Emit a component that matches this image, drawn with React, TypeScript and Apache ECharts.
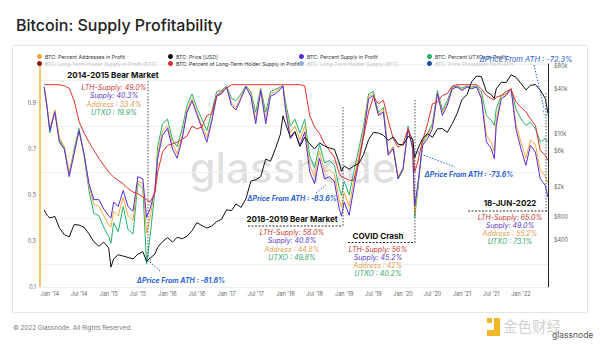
import React, { useEffect, useRef } from 'react';
import * as echarts from 'echarts';

// ---------- DATA ----------
const dates = [
  '2013-11-27', '2013-12-15',
  '2014-01-01', '2014-02-01', '2014-03-01', '2014-04-01', '2014-05-01', '2014-06-01', '2014-07-01', '2014-08-01', '2014-09-01', '2014-10-01', '2014-11-01', '2014-12-01',
  '2015-01-01', '2015-01-15', '2015-02-01', '2015-03-01', '2015-04-01', '2015-05-01', '2015-06-01', '2015-07-01', '2015-08-01', '2015-08-24', '2015-09-15', '2015-10-15', '2015-11-01', '2015-12-01',
  '2016-01-01', '2016-02-01', '2016-03-01', '2016-04-01', '2016-05-01', '2016-06-01', '2016-07-01', '2016-08-01', '2016-09-01', '2016-10-01', '2016-11-01', '2016-12-01',
  '2017-01-01', '2017-02-01', '2017-03-01', '2017-04-01', '2017-05-01', '2017-06-01', '2017-07-01', '2017-08-01', '2017-09-01', '2017-10-01', '2017-11-01', '2017-12-01', '2017-12-17',
  '2018-01-01', '2018-02-01', '2018-03-01', '2018-04-01', '2018-05-01', '2018-06-01', '2018-07-01', '2018-08-01', '2018-09-01', '2018-10-01', '2018-11-01', '2018-12-01', '2018-12-15',
  '2019-01-01', '2019-02-01', '2019-03-01', '2019-04-01', '2019-05-01', '2019-06-01', '2019-07-01', '2019-08-01', '2019-09-01', '2019-10-01', '2019-11-01', '2019-12-01',
  '2020-01-01', '2020-02-01', '2020-03-01', '2020-03-13', '2020-04-01', '2020-05-01', '2020-06-01', '2020-07-01', '2020-08-01', '2020-09-01', '2020-10-01', '2020-11-01', '2020-12-01',
  '2021-01-01', '2021-02-01', '2021-03-01', '2021-04-01', '2021-05-01', '2021-06-01', '2021-07-01', '2021-07-20', '2021-08-01', '2021-09-01', '2021-10-01', '2021-11-01', '2021-12-01',
  '2022-01-01', '2022-02-01', '2022-03-01', '2022-04-01', '2022-05-01', '2022-06-01', '2022-06-18',
];

const priceUsd = [
  1000, 850,
  780, 820, 580, 470, 440, 640, 630, 590, 480, 380, 330, 375,
  315, 175, 225, 255, 245, 235, 225, 260, 280, 210, 230, 260, 320, 380,
  430, 375, 435, 415, 450, 530, 680, 620, 575, 610, 700, 750,
  1000, 980, 1200, 1080, 1400, 2400, 2500, 2750, 4700, 4400, 6500, 10000, 17500,
  14000, 9200, 10900, 6900, 9200, 7500, 6400, 7700, 7000, 6600, 6350, 4200, 3250,
  3800, 3450, 3800, 4100, 5400, 8500, 10600, 10400, 9700, 8300, 9200, 7400,
  7200, 9400, 8600, 4900, 6400, 8800, 10200, 9100, 11800, 11900, 10600, 13800, 18800,
  29000, 33500, 49500, 59000, 57800, 36700, 33500, 29800, 39900, 48800, 48200, 61300, 57000,
  47300, 38700, 44400, 45500, 38500, 29800, 19000,
];

const lthSupplyInProfitPct = [
  0.98, 0.98,
  0.98, 0.98, 0.98, 0.975, 0.965, 0.91, 0.82, 0.77, 0.73, 0.695, 0.66, 0.63,
  0.60, 0.59, 0.578, 0.564, 0.549, 0.528, 0.513, 0.506, 0.491, 0.48, 0.47, 0.51, 0.60, 0.687,
  0.716, 0.723, 0.73, 0.742, 0.757, 0.80, 0.788, 0.796, 0.846, 0.854, 0.933, 0.951,
  0.965, 0.98, 0.98, 0.98, 0.98, 0.98, 0.98, 0.98, 0.98, 0.98, 0.98, 0.98, 0.98,
  0.98, 0.98, 0.98, 0.98, 0.975, 0.846, 0.796, 0.767, 0.723, 0.694, 0.665, 0.593, 0.58,
  0.574, 0.564, 0.564, 0.644, 0.752, 0.861, 0.926, 0.897, 0.912, 0.825, 0.745, 0.709,
  0.723, 0.788, 0.738, 0.60, 0.644, 0.738, 0.81, 0.897, 0.904, 0.933, 0.941, 0.974, 0.98,
  0.98, 0.98, 0.98, 0.98, 0.962, 0.933, 0.919, 0.915, 0.926, 0.933, 0.95, 0.96, 0.904,
  0.883, 0.861, 0.832, 0.803, 0.694, 0.673, 0.65,
];

const supplyInProfitPct = [
  0.97, 0.88,
  0.78, 0.86, 0.73, 0.70, 0.58, 0.68, 0.78, 0.68, 0.55, 0.48, 0.48, 0.44,
  0.41, 0.40, 0.47, 0.45, 0.52, 0.45, 0.43, 0.58, 0.57, 0.403, 0.44, 0.52, 0.66, 0.76,
  0.79, 0.70, 0.66, 0.745, 0.86, 0.91, 0.85, 0.79, 0.73, 0.82, 0.93, 0.94,
  0.97, 0.89, 0.87, 0.92, 0.97, 0.93, 0.81, 0.955, 0.81, 0.93, 0.94, 0.96, 0.975,
  0.875, 0.745, 0.774, 0.716, 0.774, 0.60, 0.55, 0.66, 0.57, 0.58, 0.56, 0.44, 0.408,
  0.47, 0.412, 0.528, 0.644, 0.76, 0.919, 0.933, 0.846, 0.861, 0.673, 0.702, 0.571,
  0.615, 0.788, 0.702, 0.452, 0.542, 0.716, 0.745, 0.788, 0.941, 0.846, 0.89, 0.962, 0.97,
  0.955, 0.97, 0.962, 0.97, 0.919, 0.731, 0.702, 0.658, 0.803, 0.919, 0.933, 0.962, 0.788,
  0.702, 0.629, 0.716, 0.687, 0.571, 0.542, 0.49,
];

const addressesInProfitPct = [
  0.97, 0.89,
  0.79, 0.87, 0.75, 0.71, 0.60, 0.69, 0.78, 0.68, 0.54, 0.46, 0.45, 0.41,
  0.37, 0.36, 0.43, 0.41, 0.49, 0.41, 0.39, 0.56, 0.55, 0.334, 0.40, 0.53, 0.68, 0.78,
  0.80, 0.72, 0.68, 0.76, 0.87, 0.92, 0.86, 0.80, 0.75, 0.83, 0.93, 0.945,
  0.97, 0.90, 0.88, 0.93, 0.97, 0.94, 0.83, 0.96, 0.83, 0.94, 0.95, 0.965, 0.975,
  0.89, 0.77, 0.80, 0.74, 0.80, 0.63, 0.58, 0.69, 0.60, 0.61, 0.59, 0.48, 0.448,
  0.51, 0.45, 0.56, 0.67, 0.78, 0.93, 0.94, 0.85, 0.87, 0.68, 0.71, 0.58,
  0.62, 0.79, 0.70, 0.42, 0.54, 0.72, 0.76, 0.80, 0.945, 0.86, 0.90, 0.965, 0.97,
  0.96, 0.97, 0.965, 0.97, 0.93, 0.76, 0.73, 0.69, 0.83, 0.93, 0.94, 0.965, 0.81,
  0.73, 0.66, 0.74, 0.72, 0.61, 0.58, 0.552,
];

const utxosInProfitPct = [
  0.97, 0.88,
  0.77, 0.87, 0.74, 0.70, 0.59, 0.70, 0.79, 0.67, 0.52, 0.42, 0.41, 0.36,
  0.32, 0.29, 0.38, 0.34, 0.45, 0.35, 0.33, 0.55, 0.53, 0.199, 0.32, 0.52, 0.71, 0.81,
  0.83, 0.74, 0.71, 0.79, 0.89, 0.94, 0.88, 0.83, 0.78, 0.86, 0.95, 0.955,
  0.975, 0.92, 0.91, 0.94, 0.975, 0.95, 0.86, 0.965, 0.86, 0.95, 0.96, 0.97, 0.975,
  0.91, 0.80, 0.83, 0.77, 0.83, 0.67, 0.62, 0.72, 0.64, 0.65, 0.63, 0.53, 0.498,
  0.56, 0.50, 0.60, 0.70, 0.80, 0.94, 0.95, 0.86, 0.88, 0.68, 0.71, 0.57,
  0.61, 0.80, 0.70, 0.402, 0.52, 0.73, 0.77, 0.81, 0.955, 0.87, 0.91, 0.97, 0.975,
  0.965, 0.975, 0.97, 0.975, 0.948, 0.846, 0.825, 0.803, 0.875, 0.933, 0.94, 0.962, 0.875,
  0.832, 0.803, 0.817, 0.788, 0.731, 0.745, 0.731,
];

const leftTicks = [0.1, 0.3, 0.5, 0.7, 0.9];
const priceTicks = [400, 800, 2000, 6000, 10000, 40000, 80000];
const xTickDates = [
  '2014-01-01', '2014-07-01', '2015-01-01', '2015-07-01', '2016-01-01', '2016-07-01',
  '2017-01-01', '2017-07-01', '2018-01-01', '2018-07-01', '2019-01-01', '2019-07-01',
  '2020-01-01', '2020-07-01', '2021-01-01', '2021-07-01', '2022-01-01',
];

const N = {
  addr: 'BTC: Percent Addresses in Profit',
  lthBtc: 'BTC: Long-Term Holder Supply in Profit [BTC]',
  price: 'BTC: Price [USD]',
  lthPct: 'BTC: Percent of Long-Term Holder Supply in Profit',
  supply: 'BTC: Percent Supply in Profit',
  lthSupply: 'BTC: Long-Term Holder Supply [BTC]',
  utxo: 'BTC: Percent UTXOs in Profit',
  drawdown: 'BTC: Price Drawdown from ATH',
};

const COL = {
  addr: '#f4a83a',
  lthBtc: '#8e1c1c',
  price: '#111111',
  lthPct: '#e0302a',
  supply: '#5a2be0',
  lthSupply: '#8fb1e3',
  utxo: '#22b36b',
  drawdown: '#1c4ea0',
};

const TXT = { red: '#cc3530', purple: '#5a35c9', orange: '#e39a4a', green: '#34a86a', blue: '#2b5fd9' };
const FONT = 'Inter, Roboto, "Noto Sans", sans-serif';

function toTs(s: string) {
  const [y, m, d] = s.split('-').map(Number);
  return Date.UTC(y, m - 1, d);
}

function fmtPrice(v: number) {
  const p = Math.pow(10, v);
  if (p >= 1000) return '$' + Math.round(p / 1000) + 'k';
  return '$' + Math.round(p);
}

function txt(text: string, x: number, y: number, fill: string, font: string, align = 'center') {
  return {
    type: 'text',
    z: 50,
    style: { text, x, y, fill, font, align, verticalAlign: 'middle', textAlign: align, textVerticalAlign: 'middle' },
  };
}
function ln(x1: number, y1: number, x2: number, y2: number, stroke = '#333', dash = [2, 2]) {
  return { type: 'line', z: 50, shape: { x1, y1, x2, y2 }, style: { stroke, lineWidth: 1, lineDash: dash } };
}
function circ(cx: number, cy: number, r: number) {
  return { type: 'circle', z: 50, shape: { cx, cy, r }, style: { fill: 'none', stroke: TXT.blue, lineWidth: 0.8, lineDash: [1.5, 1.5] } };
}

function block(cx: number, y0: number, step: number, lines: string[]) {
  const cols = [TXT.red, TXT.purple, TXT.orange, TXT.green];
  return lines.map((t, i) => txt(t, cx, y0 + i * step, cols[i], `italic 7px ${FONT}`));
}

function buildOption() {
  const pct = (arr: number[]) => dates.map((d, i) => [toTs(d), arr[i]]);
  const priceData = dates.map((d, i) => [toTs(d), Math.log10(priceUsd[i])]);
  const lineBase = { type: 'line', showSymbol: false, symbol: 'none', animation: false };
  const grey = { color: '#c4c4c4' };
  const legendCommon = {
    orient: 'vertical',
    top: 49,
    icon: 'circle',
    itemWidth: 5,
    itemHeight: 5,
    itemGap: 2,
    textStyle: { fontSize: 5.2, color: '#333', fontFamily: FONT, padding: [0, 0, 0, -2] },
    selectedMode: false,
  };

  const graphic: any[] = [
    { type: 'rect', z: -20, shape: { x: 12.5, y: 45.5, width: 575, height: 267, r: 2 }, style: { fill: '#fff', stroke: '#e4e4e4', lineWidth: 1 } },
    { type: 'text', z: -10, style: { text: 'glassnode', x: 293, y: 167, fill: 'rgba(0,0,0,0.12)', font: `500 42px ${FONT}`, align: 'center', verticalAlign: 'middle', textAlign: 'center', textVerticalAlign: 'middle' } },
    txt('© 2022 Glassnode. All Rights Reserved.', 13, 328, '#777', `6.3px ${FONT}`, 'left'),
    { type: 'rect', z: 60, shape: { x: 487, y: 318, width: 5, height: 5 }, style: { fill: '#f3b72a' } },
    { type: 'rect', z: 60, shape: { x: 494, y: 318, width: 6, height: 18 }, style: { fill: '#f3b72a' } },
    { type: 'rect', z: 60, shape: { x: 487, y: 330, width: 13, height: 6 }, style: { fill: '#f3b72a' } },
    txt('金色财经', 503, 325, '#d2d2d2', `14.5px "Noto Sans CJK SC", sans-serif`, 'left'),
    txt('glassnode', 552, 335, '#555', `8.5px ${FONT}`, 'left'),

    txt('2014-2015 Bear Market', 113, 75, '#111', `bold 8px ${FONT}`),
    ...block(114, 87, 8.5, ['LTH-Supply: 49.0%', 'Supply: 40.3%', 'Address : 33.4%', 'UTXO : 19.9%']),
    ln(148, 81, 148, 258, '#555', [1.5, 1.5]),
    circ(148, 259, 2.5),
    ln(150, 262, 161, 272, TXT.blue, [1.5, 1.5]),
    txt('ΔPrice From ATH : -81.8%', 181, 280, TXT.blue, `italic bold 7px ${FONT}`),

    txt('ΔPrice From ATH : -83.6%', 292, 198, TXT.blue, `italic bold 7px ${FONT}`),
    ln(316, 193, 326, 185, TXT.blue, [1.5, 1.5]),
    txt('2018-2019 Bear Market', 292, 219, '#111', `bold 8px ${FONT}`),
    ln(248, 226, 343, 226, '#333', [2, 1.5]),
    ln(343, 107, 343, 226, '#555', [1.5, 1.5]),
    ...block(292, 232, 8.5, ['LTH-Supply: 58.0%', 'Supply: 40.8%', 'Address : 44.8%', 'UTXO : 49.8%']),

    txt('COVID Crash', 378, 236, '#111', `bold 8px ${FONT}`),
    ln(348, 242.5, 415, 242.5, '#333', [2, 1.5]),
    ln(415, 100, 415, 242.5, '#555', [1.5, 1.5]),
    ...block(378, 249, 8.2, ['LTH-Supply: 56%', 'Supply: 45.2%', 'Address : 42%', 'UTXO : 40.2%']),
    circ(416, 151, 2.5),
    ln(418, 153, 455, 167, TXT.blue, [1.5, 1.5]),
    txt('ΔPrice From ATH : -73.6%', 469, 174, TXT.blue, `italic bold 7px ${FONT}`),

    txt('18-JUN-2022', 510, 203, '#111', `bold 8px ${FONT}`),
    ln(468, 211, 548, 211, '#333', [2, 1.5]),
    ln(546, 93, 546, 211, '#555', [1.5, 1.5]),
    ...block(510, 217, 8.3, ['LTH-Supply: 65.0%', 'Supply: 49.0%', 'Address : 55.2%', 'UTXO : 73.1%']),
    txt('ΔPrice From ATH : -72.3%', 526, 59, TXT.blue, `italic 7.5px ${FONT}`),
    ln(534, 65, 544, 108, TXT.blue, [1.5, 1.5]),
    circ(546, 112, 3),
  ];

  return {
    animation: false,
    backgroundColor: '#ffffff',
    textStyle: { fontFamily: FONT },
    title: {
      text: 'Bitcoin: Supply Profitability',
      left: 11,
      top: 12,
      textStyle: { fontSize: 16, fontWeight: 500, color: '#222', fontFamily: FONT },
    },
    legend: [
      { ...legendCommon, left: 32, data: [N.addr, { name: N.lthBtc, textStyle: grey }] },
      { ...legendCommon, left: 163, data: [N.price, N.lthPct] },
      { ...legendCommon, left: 294, data: [N.supply, { name: N.lthSupply, textStyle: grey }] },
      { ...legendCommon, left: 422, data: [N.utxo, { name: N.drawdown, textStyle: grey }] },
    ],
    grid: { left: 40, right: 52, top: 64, bottom: 59, containLabel: false },
    xAxis: {
      type: 'value',
      min: toTs('2013-11-01'),
      max: toTs('2022-06-18'),
      axisLine: { show: true, lineStyle: { color: '#eeeeee' } },
      axisTick: { show: false },
      splitLine: { show: false },
      axisLabel: {
        customValues: xTickDates.map(toTs),
        fontSize: 5.5,
        color: '#666',
        margin: 4,
        formatter: (v: number) => {
          const d = new Date(v);
          return (d.getUTCMonth() === 0 ? 'Jan' : 'Jul') + " '" + String(d.getUTCFullYear()).slice(2);
        },
      },
    },
    yAxis: [
      {
        type: 'value',
        min: 0.1,
        max: 1.07,
        position: 'left',
        axisLine: { show: true, lineStyle: { color: '#f2b43a', width: 1.5 } },
        axisTick: { show: false },
        splitLine: { show: true, lineStyle: { color: '#f1f1f1', width: 1 } },
        axisLabel: {
          customValues: leftTicks,
          fontSize: 5.5,
          color: '#666',
          margin: 4,
          formatter: (v: number) => v.toFixed(1),
        },
      },
      {
        type: 'value',
        min: 1.98,
        max: 4.93,
        position: 'right',
        axisLine: { show: true, lineStyle: { color: '#222', width: 1 } },
        axisTick: { show: false },
        splitLine: { show: false },
        axisLabel: {
          customValues: priceTicks.map((p) => Math.log10(p)),
          fontSize: 5.5,
          color: '#666',
          margin: 6,
          formatter: fmtPrice,
        },
      },
    ],
    series: [
      { ...lineBase, name: N.lthBtc, color: COL.lthBtc, data: [] },
      { ...lineBase, name: N.lthSupply, color: COL.lthSupply, data: [] },
      { ...lineBase, name: N.drawdown, color: COL.drawdown, data: [] },
      { ...lineBase, name: N.utxo, color: COL.utxo, lineStyle: { width: 1, color: COL.utxo }, data: pct(utxosInProfitPct) },
      { ...lineBase, name: N.addr, color: COL.addr, lineStyle: { width: 1, color: COL.addr }, data: pct(addressesInProfitPct) },
      { ...lineBase, name: N.supply, color: COL.supply, lineStyle: { width: 1, color: COL.supply }, data: pct(supplyInProfitPct) },
      { ...lineBase, name: N.lthPct, color: COL.lthPct, lineStyle: { width: 1, color: COL.lthPct }, data: pct(lthSupplyInProfitPct) },
      { ...lineBase, name: N.price, color: COL.price, yAxisIndex: 1, lineStyle: { width: 1, color: COL.price }, data: priceData },
    ],
    graphic,
  };
}

export default function App() {
  const ref = useRef<HTMLDivElement>(null);
  useEffect(() => {
    if (!ref.current) return;
    const chart = echarts.init(ref.current, null, { renderer: 'svg' });
    chart.setOption(buildOption() as any);
    return () => chart.dispose();
  }, []);
  return (
    <div
      ref={ref}
      style={{ position: 'fixed', left: 0, top: 0, width: 600, height: 346, background: '#fff' }}
    />
  );
}
